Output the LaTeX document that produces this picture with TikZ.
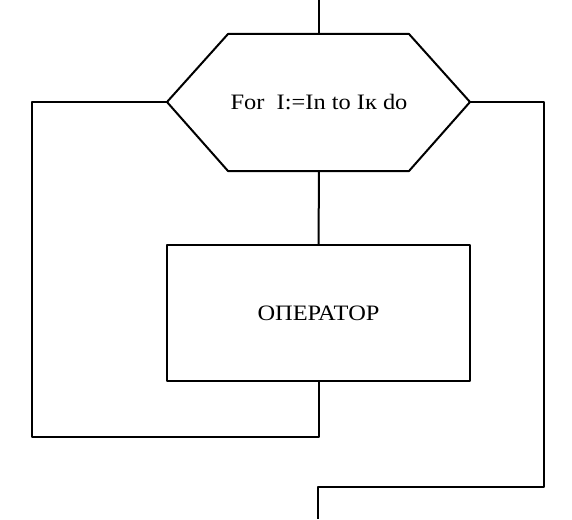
\documentclass[tikz,border=0pt]{standalone}
\usepackage{fontspec}
\setmainfont{Liberation Serif}
\begin{document}
\begin{tikzpicture}[x=1pt,y=-1pt,
  line/.style={line width=2pt, line join=round},
  lbl/.style={font=\fontsize{22}{25}\selectfont, inner sep=0pt}]
\useasboundingbox (0,0) rectangle (572,519);
% hexagon corners
\coordinate (hN) at (319,34);
\coordinate (hS) at (319,171);
\coordinate (hW) at (167,102);
\coordinate (hE) at (470,102);
\draw[line] (228,34) -- (409,34) -- (hE) -- (409,171) -- (228,171) -- (hW) -- cycle;
\node[lbl] (loop) at (319,102) {\scalebox{1.11}[1]{For\ \ I:=In to Iк do}};
% operator box
\node[line, draw, minimum width=303pt, minimum height=136pt, inner sep=0pt] (op) at (318.5,313) {};
\node[lbl] (optext) at (op.center) {\scalebox{1.11}[1]{ОПЕРАТОР}};
% free ends
\coordinate (in) at (319,0);
\coordinate (out) at (318,519);
\coordinate (backL) at (32,437);
\coordinate (exitR) at (544,487);
\draw[line] (in) -- (hN);
\draw[line] (hS) -- (op.north);
\draw[line] (op.south) |- (backL) |- (hW);
\draw[line] (hE) -| (exitR) -| (out);
\end{tikzpicture}
\end{document}
